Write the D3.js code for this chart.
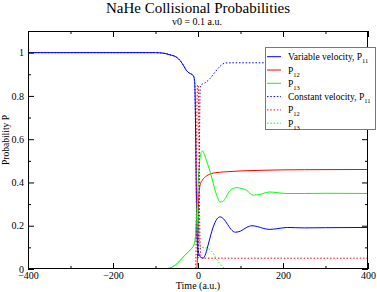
<!DOCTYPE html>
<html>
<head>
<meta charset="utf-8">
<title>NaHe Collisional Probabilities</title>
<script src="https://cdn.jsdelivr.net/npm/d3@7"></script>
<style>
  body { margin: 0; background: #fff; }
  svg text { font-family: "Liberation Serif", "DejaVu Serif", serif; fill: #000; }
</style>
</head>
<body>
<svg id="chart"></svg>
<script>
// values: time (a.u.) and probability per set

// variable velocity
const tVar11 = [-400,-100,-80,-66,-50,-42,-34,-27,-20,-15,-11,-8,-6,-4.5,-3,-1,2,6,12,18,25,35,45,52,60,70,80,88,100,115,127,140,155,169,185,210,250,300,400];
const pVar11 = [1,1,0.997,0.99,0.978,0.963,0.94,0.917,0.905,0.9,0.893,0.87,0.7,0.45,0.22,0.11,0.07,0.055,0.05,0.07,0.12,0.19,0.232,0.241,0.232,0.205,0.178,0.17,0.175,0.193,0.2,0.196,0.187,0.183,0.186,0.192,0.19,0.191,0.192];

const tVar12 = [-400,-3,-1.5,0,1,2,3.5,6,10,20,36,70,146,250,400];
const pVar12 = [0,0,0.04,0.15,0.28,0.34,0.37,0.395,0.41,0.43,0.443,0.45,0.456,0.459,0.46];

const tVar13 = [-400,-90,-73,-60,-45,-35,-25,-15,-10,-7,-5,-3,-1,1,4,8,11,15,20,26,32,38,44,52,58,64,75,91,103,114,130,146,169,190,209,250,300,400];
const pVar13 = [0,0,0.002,0.01,0.033,0.055,0.075,0.095,0.11,0.13,0.18,0.26,0.34,0.42,0.5,0.54,0.545,0.53,0.5,0.465,0.425,0.38,0.34,0.31,0.312,0.325,0.362,0.376,0.372,0.364,0.341,0.345,0.356,0.352,0.349,0.349,0.35,0.349];

// constant velocity
const tCon11 = [-400,-100,-80,-66,-50,-42,-34,-27,-20,-15,-11,-8,-6,-4.5,-3,-1,0.5,2,3,4,5,8,16,28,40,52,64,80,400];
const pCon11 = [1,1,0.997,0.99,0.978,0.963,0.94,0.917,0.905,0.9,0.893,0.87,0.7,0.45,0.22,0.08,0.05,0.2,0.45,0.7,0.83,0.852,0.86,0.88,0.91,0.937,0.952,0.953,0.953];

const tCon12 = [-400,-6,-4.5,-3.5,-2.5,-1,0.5,2,3.5,5,7,10,400];
const pCon12 = [0,0,0.1,0.4,0.75,0.85,0.85,0.6,0.3,0.12,0.06,0.05,0.05];

const tCon13 = [-400,-90,-73,-60,-45,-35,-25,-15,-10,-7,-5,-3,-1,1,3,6,10,20,28,35,42,50,58,66,400];
const pCon13 = [0,0,0.002,0.01,0.033,0.055,0.075,0.095,0.11,0.13,0.18,0.26,0.32,0.25,0.14,0.1,0.1,0.097,0.09,0.075,0.05,0.028,0.01,0,0];

const xMajor = [-400,-200,0,200,400];
const xMinor = [-300,-100,100,300];
const yMajor = [0,0.2,0.4,0.6,0.8,1];
const yMajorLabels = ["0","0.2","0.4","0.6","0.8","1"];
const yMinor = [0.1,0.3,0.5,0.7,0.9];

const legendLabels = [["Variable velocity, P","11"],["P","12"],["P","13"],["Constant velocity, P","11"],["P","12"],["P","13"]];
const seriesColors = ["#0000ff","#ff0000","#00ff00","#0000ff","#ff0000","#00ff00"];

const W = 377, H = 292;
const m = {top: 31, right: 9, bottom: 23, left: 28};

const svg = d3.select('#chart').attr('width', W).attr('height', H);

const x = d3.scaleLinear().domain([-400, 400]).range([m.left, W - m.right]);
const y = d3.scaleLinear().domain([0, 1.1]).range([H - m.bottom, m.top]);

svg.append('clipPath').attr('id', 'clip')
  .append('rect')
  .attr('x', m.left).attr('y', m.top)
  .attr('width', W - m.left - m.right).attr('height', H - m.top - m.bottom);

const series = [
  {t: tVar11, p: pVar11, dotted: false},
  {t: tVar12, p: pVar12, dotted: false},
  {t: tVar13, p: pVar13, dotted: false},
  {t: tCon11, p: pCon11, dotted: true},
  {t: tCon12, p: pCon12, dotted: true},
  {t: tCon13, p: pCon13, dotted: true}
];

const line = d3.line()
  .x(d => x(d[0]))
  .y(d => y(d[1]))
  .curve(d3.curveMonotoneX);

svg.append('g').attr('clip-path', 'url(#clip)')
  .selectAll('path')
  .data(series)
  .join('path')
  .attr('d', s => line(s.t.map((t, i) => [t, s.p[i]])))
  .attr('fill', 'none')
  .attr('stroke', (s, i) => seriesColors[i])
  .attr('stroke-width', 1)
  .attr('stroke-dasharray', s => s.dotted ? '1.5,1.8' : null);

// axes, ticks point inward
function styleAxis(g) {
  g.select('.domain').remove();
  g.selectAll('line').attr('stroke', '#000');
  g.selectAll('text').attr('font-family', '"Liberation Serif", serif').attr('font-size', 10);
}
const bottom = H - m.bottom, right = W - m.right;

svg.append('g').attr('transform', `translate(0,${bottom})`)
  .call(d3.axisBottom(x).tickValues(xMajor).tickSizeInner(-6).tickSizeOuter(0).tickPadding(3).tickFormat(d3.format('d')))
  .call(styleAxis);
svg.append('g').attr('transform', `translate(0,${bottom})`)
  .call(d3.axisBottom(x).tickValues(xMinor).tickSizeInner(-3).tickSizeOuter(0).tickFormat(''))
  .call(styleAxis);
svg.append('g').attr('transform', `translate(0,${m.top})`)
  .call(d3.axisTop(x).tickValues(xMajor).tickSizeInner(-6).tickSizeOuter(0).tickFormat(''))
  .call(styleAxis);
svg.append('g').attr('transform', `translate(0,${m.top})`)
  .call(d3.axisTop(x).tickValues(xMinor).tickSizeInner(-3).tickSizeOuter(0).tickFormat(''))
  .call(styleAxis);

svg.append('g').attr('transform', `translate(${m.left},0)`)
  .call(d3.axisLeft(y).tickValues(yMajor).tickSizeInner(-6).tickSizeOuter(0).tickPadding(4)
    .tickFormat((d, i) => yMajorLabels[i]))
  .call(styleAxis);
svg.append('g').attr('transform', `translate(${m.left},0)`)
  .call(d3.axisLeft(y).tickValues(yMinor).tickSizeInner(-3).tickSizeOuter(0).tickFormat(''))
  .call(styleAxis);
svg.append('g').attr('transform', `translate(${right},0)`)
  .call(d3.axisRight(y).tickValues(yMajor).tickSizeInner(-6).tickSizeOuter(0).tickFormat(''))
  .call(styleAxis);
svg.append('g').attr('transform', `translate(${right},0)`)
  .call(d3.axisRight(y).tickValues(yMinor).tickSizeInner(-3).tickSizeOuter(0).tickFormat(''))
  .call(styleAxis);

// frame
svg.append('rect')
  .attr('x', m.left + 0.5).attr('y', m.top + 0.5)
  .attr('width', W - m.left - m.right - 1).attr('height', H - m.top - m.bottom - 1)
  .attr('fill', 'none').attr('stroke', '#000').attr('stroke-width', 1);

// titles
svg.append('text').attr('x', 198).attr('y', 13)
  .attr('text-anchor', 'middle').attr('font-size', 15)
  .text('NaHe Collisional Probabilities');
svg.append('text').attr('x', 197).attr('y', 24.5)
  .attr('text-anchor', 'middle').attr('font-size', 10)
  .text('v0 = 0.1 a.u.');
svg.append('text').attr('x', 198).attr('y', 289)
  .attr('text-anchor', 'middle').attr('font-size', 10)
  .text('Time (a.u.)');
svg.append('text')
  .attr('transform', 'translate(9,140) rotate(-90)')
  .attr('text-anchor', 'middle').attr('font-size', 9.5)
  .text('Probability P');

// legend
const lg = svg.append('g');
lg.append('rect')
  .attr('x', 265.5).attr('y', 47.5).attr('width', 110).attr('height', 82)
  .attr('fill', '#fff').attr('stroke', '#777').attr('stroke-width', 1);

const rows = lg.selectAll('g.row')
  .data(legendLabels)
  .join('g')
  .attr('class', 'row')
  .attr('transform', (d, i) => `translate(0,${56.7 + i * 13.3})`);
rows.append('line')
  .attr('x1', 267).attr('x2', 281)
  .attr('stroke', (d, i) => seriesColors[i])
  .attr('stroke-width', 1)
  .attr('stroke-dasharray', (d, i) => i >= 3 ? '1.5,1.8' : null);
const lt = rows.append('text')
  .attr('x', 288).attr('y', 3.5).attr('font-size', 9.5);
lt.append('tspan').text(d => d[0]);
lt.append('tspan').attr('dy', 3).attr('font-size', 6.5).text(d => d[1]);
</script>
</body>
</html>
